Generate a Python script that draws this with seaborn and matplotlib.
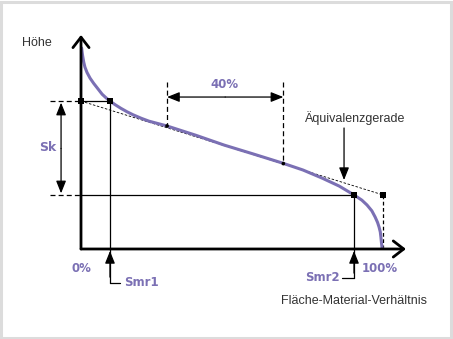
import matplotlib
matplotlib.use("Agg")
import matplotlib.pyplot as plt
import seaborn as sns
import pandas as pd
from matplotlib.patches import Rectangle

# ---- data (material ratio in %, height in % of max) ----
curve_ratio = [0.2, 0.5, 0.9, 1.3, 2.0, 3.0, 4.2, 5.5, 7.0, 8.3, 9.6, 11.3,
               13.2, 15.2, 17.2, 20.0, 22.5, 25.5, 28.5, 38.0, 47.4, 57.0,
               66.6, 73.5, 79.8, 85.5, 90.4, 93.0, 94.7, 96.3, 97.4, 98.2,
               98.7, 99.1, 99.3, 99.5, 99.7]
curve_height = [100.0, 96.5, 93.0, 90.5, 87.8, 85.0, 82.4, 79.9, 77.0, 75.2,
                73.6, 71.8, 70.0, 68.3, 66.8, 65.0, 63.6, 62.4, 61.2, 56.6,
                51.7, 47.3, 42.8, 39.3, 35.3, 31.3, 26.9, 24.3, 21.9, 19.0,
                15.9, 13.2, 10.9, 8.5, 6.0, 3.0, 0.5]
equiv_ratio = [0.0, 100.0]
equiv_height = [73.6, 26.9]
smr1, smr2 = 9.6, 90.4
sk_top, sk_bottom = 73.6, 26.9
win_left, win_right = 28.5, 67.0
win_left_h, win_right_h = 61.2, 42.5

labels_pct = ["0%", "100%"]
label_window = "40%"

PURPLE = "#7B70B4"
GRAY = "#333333"

sns.set_theme(style="white")
plt.rcParams["font.family"] = ["DejaVu Sans"]

fig = plt.figure(figsize=(4.53, 3.39), dpi=100)
ax = fig.add_axes([0, 0, 1, 1])
ax.set_xlim(-26.82, 123.18)
ax.set_ylim(-44.78, 123.88)
ax.axis("off")

# frame
fig.patches.append(Rectangle((0.002, 0.003), 0.994, 0.992, transform=fig.transFigure,
                             fill=False, edgecolor="#dcdcdc", linewidth=2.2))

def arrow(x0, y0, x1, y1, style="-|>,head_length=0.75,head_width=0.3", lw=0.9):
    ax.annotate("", xy=(x1, y1), xytext=(x0, y0),
                arrowprops=dict(arrowstyle=style, color="black", lw=lw,
                                shrinkA=0, shrinkB=0, mutation_scale=10), zorder=5)

# axes with open chevron heads
arrow(0, 0, 0, 106.5, style="->,head_length=0.75,head_width=0.58", lw=2.0)
arrow(0, 0, 107.6, 0, style="->,head_length=0.75,head_width=0.58", lw=2.0)

# equivalence line (thin dashed)
ax.plot(equiv_ratio, equiv_height, color="black", lw=0.6, ls=(0, (3, 2)), zorder=2)

# curve
df = pd.DataFrame({"ratio": curve_ratio, "height": curve_height})
sns.lineplot(data=df, x="ratio", y="height", sort=False, color=PURPLE, lw=2.2,
             ax=ax, zorder=3)

# helper lines at Smr1 / Smr2 levels
ax.plot([-10.3, 0], [sk_top, sk_top], color="black", lw=0.9, ls=(0, (4, 2.5)))
ax.plot([0, smr1], [sk_top, sk_top], color="black", lw=0.9)
ax.plot([-10.3, 0], [sk_bottom, sk_bottom], color="black", lw=0.9, ls=(0, (4, 2.5)))
ax.plot([0, smr2], [sk_bottom, sk_bottom], color="black", lw=0.9)
ax.plot([100, 100], [sk_bottom, 0], color="black", lw=0.9, ls=(0, (3, 2)))

# Smr1 / Smr2 leaders
ax.plot([smr1, smr1], [sk_top, -16.9], color="black", lw=0.9)
ax.plot([smr1, 12.9], [-16.9, -16.9], color="black", lw=0.9)
ax.plot([smr2, smr2], [sk_bottom, -14.4], color="black", lw=0.9)
ax.plot([86.4, smr2], [-14.4, -14.4], color="black", lw=0.9)
arrow(smr1, -14.0, smr1, -1.0)
arrow(smr2, -12.0, smr2, -1.0)

# Sk double arrow
arrow(-6.6, 50, -6.6, sk_top - 0.8)
arrow(-6.6, 50, -6.6, sk_bottom + 0.8)

# 40% window
ax.plot([win_left, win_left], [83.1, win_left_h], color="black", lw=0.9, ls=(0, (4, 2.5)))
ax.plot([win_right, win_right], [83.1, win_right_h], color="black", lw=0.9, ls=(0, (4, 2.5)))
arrow((win_left + win_right) / 2, 75.6, win_left, 75.6)
arrow((win_left + win_right) / 2, 75.6, win_right, 75.6)

# Äquivalenzgerade pointer
arrow(87.1, 60.2, 87.1, 34.3)

# markers
sq = pd.DataFrame({"x": [0, smr1, smr2, 100], "y": [sk_top, sk_top, sk_bottom, sk_bottom]})
sns.scatterplot(data=sq, x="x", y="y", marker="s", s=16, color="black",
                edgecolor="none", ax=ax, zorder=6)
dots = pd.DataFrame({"x": [win_left, win_right], "y": [win_left_h, win_right_h]})
sns.scatterplot(data=dots, x="x", y="y", marker="o", s=7, color="black",
                edgecolor="none", ax=ax, zorder=6)
ax.set_xlabel("")
ax.set_ylabel("")

# texts
tkw = dict(family=["Liberation Sans", "DejaVu Sans"], color=GRAY, fontsize=9)
ax.text(-14.6, 102.5, "Höhe", ha="center", va="center", **tkw)
ax.text(90.7, 65.2, "Äquivalenzgerade", ha="center", va="center", **tkw)
ax.text(90.4, -25.9, "Fläche-Material-Verhältnis", ha="center", va="center", **tkw)

pkw = dict(color=PURPLE, fontsize=8.5, fontweight="bold", va="center")
ax.text(0, -9.5, labels_pct[0], ha="center", **pkw)
ax.text(99, -9.5, labels_pct[1], ha="center", **pkw)
ax.text(47.4, 81.6, label_window, ha="center", **pkw)
ax.text(-10.9, 50.7, "Sk", ha="center", **{**pkw, "fontsize": 9})
ax.text(14.2, -16.9, "Smr1", ha="left", **pkw)
ax.text(85.8, -14.4, "Smr2", ha="right", **pkw)

fig.savefig("out.png", dpi=100)
